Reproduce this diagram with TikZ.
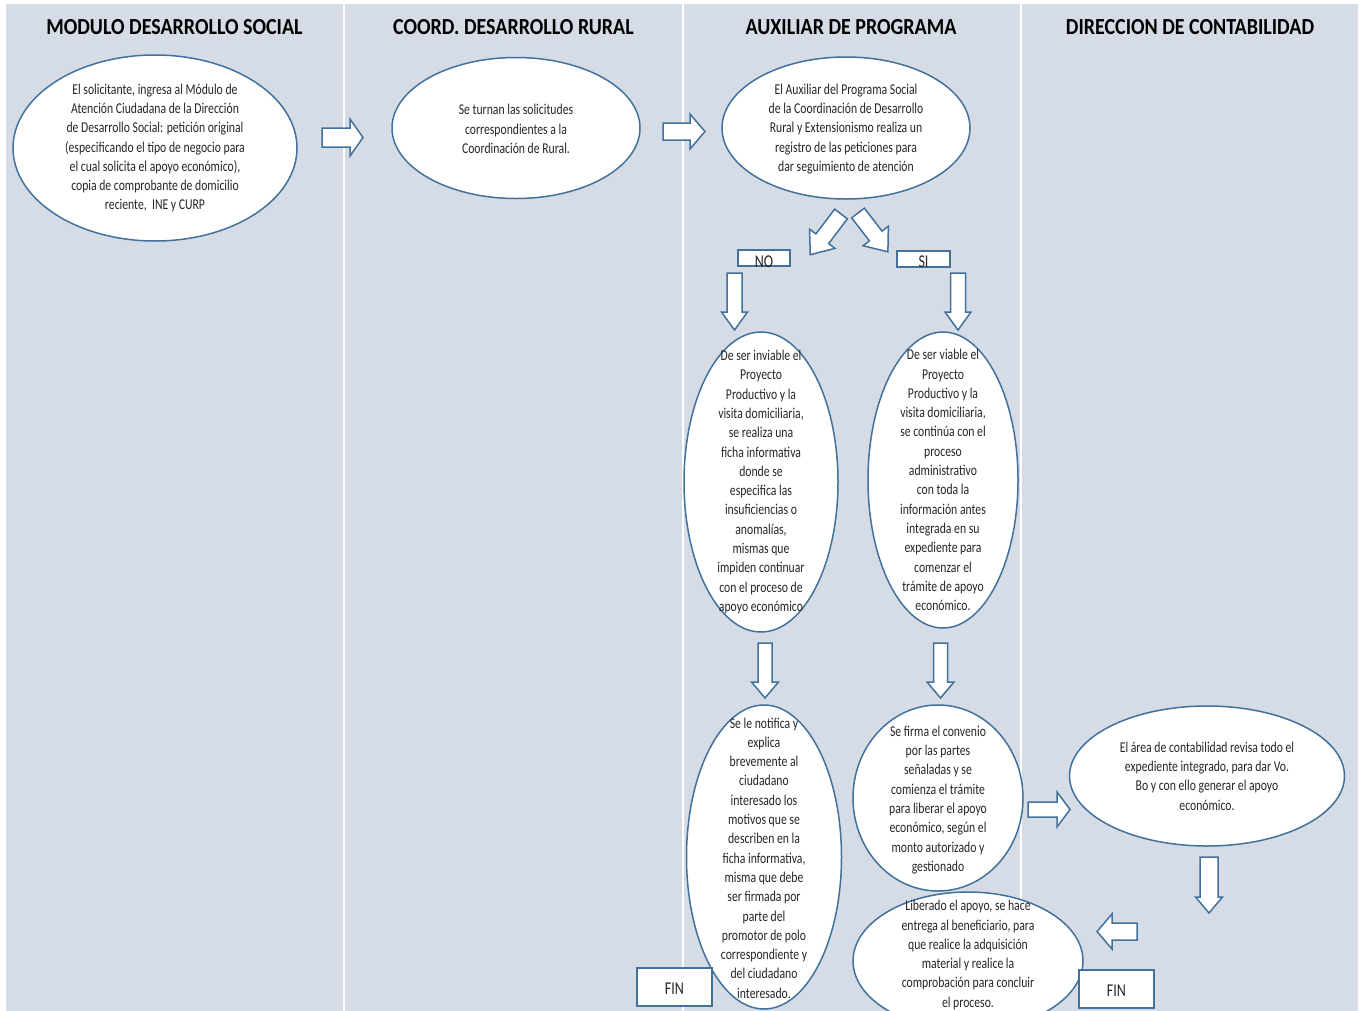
\documentclass[tikz,border=0pt]{standalone}
\usepackage{fontspec}
\setmainfont{Carlito}[FakeStretch=0.78]
\newfontfamily\headfont{Carlito}[FakeStretch=0.87]
\usetikzlibrary{shapes.geometric}
\definecolor{lanebg}{RGB}{214,220,229}
\definecolor{edgeblue}{RGB}{65,113,156}
\tikzset{
 ell/.style={ellipse, draw=edgeblue, line width=1.5pt, fill=white, inner sep=0pt},
 txt/.style={align=center, font=\fontsize{15}{19.3}\selectfont, inner sep=0pt, text=black!85},
 head/.style={font=\headfont\bfseries\fontsize{23}{27}\selectfont, inner sep=0pt},
 barr/.style={draw=edgeblue, fill=white, line width=1.5pt, line join=miter},
 labbox/.style={draw=edgeblue, fill=white, line width=1.5pt, inner sep=0pt},
 labtxt/.style={inner sep=0pt, font=\fontsize{18}{21}\selectfont, text=black!85},
}
\newcommand\blockarr[7]{%
 \begin{scope}[shift={(#1,#2)},rotate=#3]
 \draw[barr] (0,-#5) -- (#4-#7,-#5) -- (#4-#7,-#6) -- (#4,0) -- (#4-#7,#6) -- (#4-#7,#5) -- (0,#5) -- cycle;
 \end{scope}}
\begin{document}
\begin{tikzpicture}[x=1pt,y=-1pt]
\useasboundingbox (0,0) rectangle (1363,1010);
\begin{scope}
\clip (0,0) rectangle (1363,1010);
% lanes
\fill[lanebg] (6,4) rectangle (343,1012);
\fill[lanebg] (345,4) rectangle (682,1012);
\fill[lanebg] (684,4) rectangle (1020,1012);
\fill[lanebg] (1022,4) rectangle (1358,1012);
% headers
\node[head] (h1) at (174.5,27) {MODULO DESARROLLO SOCIAL};
\node[head] (h2) at (513.5,27) {COORD. DESARROLLO RURAL};
\node[head] (h3) at (851,27) {AUXILIAR DE PROGRAMA};
\node[head] (h4) at (1190,27) {DIRECCION DE CONTABILIDAD};
% ellipses
\node[ell, minimum width=284pt, minimum height=186pt] (e1) at (155,148) {};
\node[txt] (t1) at (155,148) {El solicitante, ingresa al Módulo de\\ Atención Ciudadana de la Dirección\\ de Desarrollo Social: petición original\\ (especificando el tipo de negocio para\\ el cual solicita el apoyo económico),\\ copia de comprobante de domicilio\\ reciente,\ \ INE y CURP};
\node[ell, minimum width=248pt, minimum height=141pt] (e2) at (516,128) {};
\node[txt] (t2) at (516,129) {Se turnan las solicitudes\\ correspondientes a la\\ Coordinación de Rural.};
\node[ell, minimum width=248pt, minimum height=142pt] (e3) at (846,128) {};
\node[txt] (t3) at (846,129) {El Auxiliar del Programa Social\\ de la Coordinación de Desarrollo\\ Rural y Extensionismo realiza un\\ registro de las peticiones para\\ dar seguimiento de atención};
\node[ell, minimum width=154pt, minimum height=300pt] (e4) at (761,482) {};
\node[txt] (t4) at (761,482) {De ser inviable el\\ Proyecto\\ Productivo y la\\ visita domiciliaria,\\ se realiza una\\ ficha informativa\\ donde se\\ especifica las\\ insuficiencias o\\ anomalías,\\ mismas que\\ impiden continuar\\ con el proceso de\\ apoyo económico};
\node[ell, minimum width=150pt, minimum height=296pt] (e5) at (943,480) {};
\node[txt] (t5) at (943,480) {De ser viable el\\ Proyecto\\ Productivo y la\\ visita domiciliaria,\\ se continúa con el\\ proceso\\ administrativo\\ con toda la\\ información antes\\ integrada en su\\ expediente para\\ comenzar el\\ trámite de apoyo\\ económico.};
\node[ell, minimum width=155pt, minimum height=304pt] (e6) at (764,857) {};
\node[txt] (t6) at (764,858) {Se le notifica y\\ explica\\ brevemente al\\ ciudadano\\ interesado los\\ motivos que se\\ describen en la\\ ficha informativa,\\ misma que debe\\ ser firmada por\\ parte del\\ promotor de polo\\ correspondiente y\\ del ciudadano\\ interesado.};
\node[ell, minimum width=170pt, minimum height=186pt] (e7) at (938,798) {};
\node[txt] (t7) at (938,800) {Se firma el convenio\\ por las partes\\ señaladas y se\\ comienza el trámite\\ para liberar el apoyo\\ económico, según el\\ monto autorizado y\\ gestionado};
\node[ell, minimum width=230pt, minimum height=138pt] (e8) at (968,961) {};
\node[txt] (t8) at (968,955) {Liberado el apoyo, se hace\\ entrega al beneficiario, para\\ que realice la adquisición\\ material y realice la\\ comprobación para concluir\\ el proceso.};
\node[ell, minimum width=275pt, minimum height=140pt] (e9) at (1207,776) {};
\node[txt] (t9) at (1207,776) {El área de contabilidad revisa todo el\\ expediente integrado, para dar Vo.\\ Bo y con ello generar el apoyo\\ económico.};
% label boxes
\node[labbox, minimum width=52pt, minimum height=16pt] (no) at (764,258) {};
\node[labtxt] (notxt) at (764,261.5) {NO};
\node[labbox, minimum width=53pt, minimum height=16pt] (si) at (923.5,259) {};
\node[labtxt] (sitxt) at (923.5,262) {SI};
\node[labbox, minimum width=75pt, minimum height=38pt] (fin1) at (674.5,987) {};
\node[labtxt] (fin1txt) at (674.5,989) {FIN};
\node[labbox, minimum width=75pt, minimum height=38pt] (fin2) at (1116.5,989) {};
\node[labtxt] (fin2txt) at (1116.5,991) {FIN};
% block arrows
\blockarr{322}{137.5}{0}{41}{9.5}{18.5}{13}
\blockarr{663}{131.5}{0}{42}{8.5}{17.5}{15}
\blockarr{841}{214}{-127.1}{51}{8}{16}{20}
\blockarr{858}{213}{-52.4}{49}{8}{16}{20}
\blockarr{734.5}{273}{-90}{57}{7.5}{13}{18}
\blockarr{958}{273}{-90}{57}{7.5}{13}{18}
\blockarr{765}{643}{-90}{55}{7}{13.5}{16}
\blockarr{940.5}{643}{-90}{55}{7}{13.5}{16}
\blockarr{1028}{809.5}{0}{42}{7.5}{17.5}{13}
\blockarr{1209}{857}{-90}{56}{9}{13.5}{16}
\blockarr{1137}{931.5}{180}{40}{8.5}{17.5}{15}
\end{scope}
\end{tikzpicture}
\end{document}
